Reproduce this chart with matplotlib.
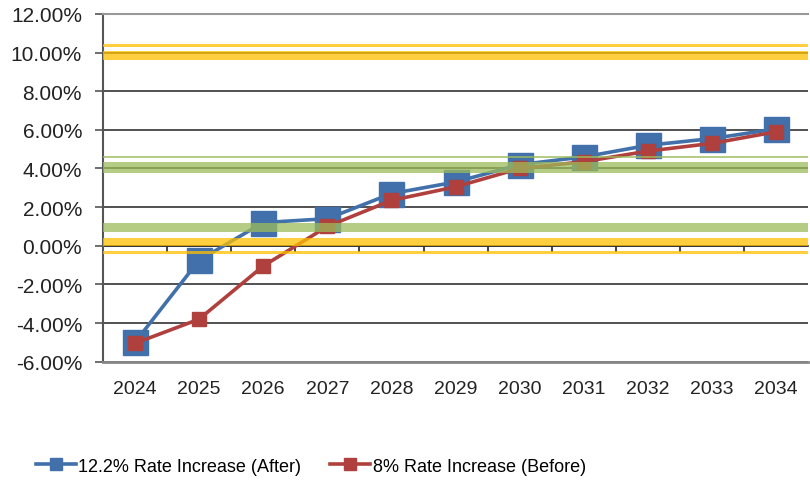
import matplotlib.pyplot as plt
from matplotlib.ticker import FuncFormatter

years = ['2024', '2025', '2026', '2027', '2028', '2029', '2030', '2031', '2032', '2033', '2034']
after = [-5.0, -0.75, 1.2, 1.4, 2.7, 3.3, 4.2, 4.6, 5.2, 5.55, 6.05]
before = [-5.05, -3.8, -1.05, 1.0, 2.35, 3.05, 4.0, 4.35, 4.9, 5.3, 5.9]

# highlight bands (low, high) in %
yellow_bands = [(9.62, 10.1), (10.29, 10.42), (-0.02, 0.4), (-0.42, -0.27)]
green_bands = [(3.78, 4.33), (4.52, 4.65), (0.71, 1.19)]

plt.rcParams['font.family'] = ['Liberation Sans', 'DejaVu Sans']

fig = plt.figure(figsize=(8.1, 4.81), dpi=100)
ax = fig.add_axes([0.127, 0.246, 0.871, 0.723])

x = range(len(years))
ax.plot(x, after, color='#4170AA', lw=2.6, marker='s', ms=18, mec='#4170AA',
        label='12.2% Rate Increase (After)', zorder=3)
ax.plot(x, before, color='#B0403D', lw=2.6, marker='s', ms=10, mec='#B0403D',
        label='8% Rate Increase (Before)', zorder=4)

for lo, hi in yellow_bands:
    ax.axhspan(lo, hi, color='#FFC000', alpha=0.75, lw=0, zorder=5)
for lo, hi in green_bands:
    ax.axhspan(lo, hi, color='#9BBB59', alpha=0.75, lw=0, zorder=5)

ax.set_ylim(-6, 12)
ax.set_yticks(range(-6, 13, 2))
ax.yaxis.set_major_formatter(FuncFormatter(lambda v, p: '{:.2f}%'.format(v)))
ax.grid(axis='y', color='#333333', lw=1.2)
ax.set_axisbelow(True)
ax.tick_params(axis='y', length=6, width=1.2, color='#555555', pad=9,
               labelsize=15, labelcolor='#222222')

ax.set_xlim(-0.5, len(years) - 0.5)
ax.set_xticks(list(x))
ax.set_xticklabels(years)
ax.tick_params(axis='x', length=0, pad=13, labelsize=14, labelcolor='#222222')

# category tick marks on the zero line
sec = ax.secondary_xaxis(0, transform=ax.transData)
sec.set_xticks([i + 0.5 for i in range(len(years) - 1)])
sec.set_xticklabels([])
sec.tick_params(length=4, width=1.2, color='#222222')
sec.spines['bottom'].set_color('#333333')
sec.spines['bottom'].set_linewidth(1.2)

ax.spines['right'].set_visible(False)
ax.spines['top'].set_color('#999999')
ax.spines['top'].set_linewidth(1.5)
ax.spines['left'].set_color('#555555')
ax.spines['left'].set_linewidth(1.5)
ax.spines['bottom'].set_color('#888888')
ax.spines['bottom'].set_linewidth(2)

leg = ax.legend(loc='center', bbox_to_anchor=(0.295, -0.3), ncol=2, frameon=False,
                fontsize=13, handlelength=2.2, columnspacing=1.6, handletextpad=0.15)
for h in leg.legend_handles:
    h.set_markersize(8)

fig.savefig('out.png', dpi=100)
